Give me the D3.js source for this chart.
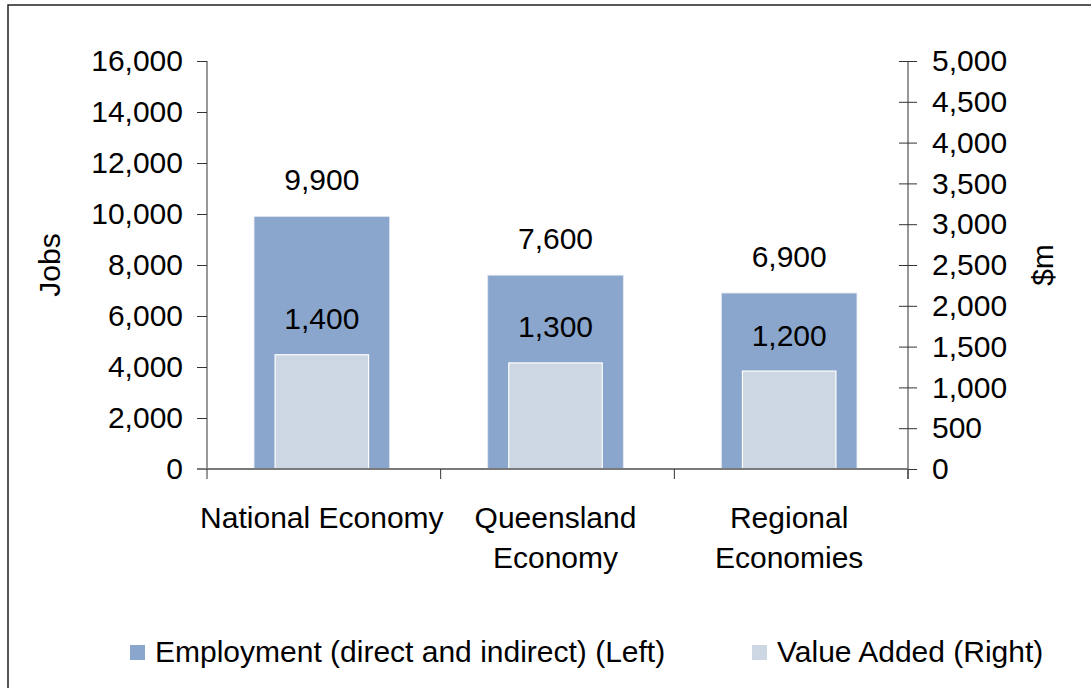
<!DOCTYPE html>
<html><head><meta charset="utf-8">
<script src="https://cdn.jsdelivr.net/npm/d3@7"></script>
<style>body{margin:0;background:#fff}svg{display:block}text{font-family:"Liberation Sans",Arial,sans-serif;fill:#000}</style>
</head><body><svg id="c" width="1091" height="688"></svg>
<script>
const categories = [["National Economy"], ["Queensland", "Economy"], ["Regional", "Economies"]];
const employment = [9900, 7600, 6900];
const valueAdded = [1400, 1300, 1200];
const leftTicks = [0, 2000, 4000, 6000, 8000, 10000, 12000, 14000, 16000];
const rightTicks = [0, 500, 1000, 1500, 2000, 2500, 3000, 3500, 4000, 4500, 5000];
const seriesNames = ["Employment (direct and indirect) (Left)", "Value Added (Right)"];
const colors = ["#8aa6cc", "#cdd7e3"];

const svg = d3.select("#c");
const fs = 30;
const L = 207, R = 908, T = 61, B = 469;
const x = d3.scaleBand().domain(d3.range(categories.length)).range([L, R]).padding(0);
const yL = d3.scaleLinear().domain([0, 16000]).range([B, T]);
const yR = d3.scaleLinear().domain([0, 5000]).range([B, T]);
const fmt = d3.format(",");

// border
svg.append("rect").attr("x", 8).attr("y", 5).attr("width", 1100).attr("height", 700)
  .attr("fill", "none").attr("stroke", "#222").attr("stroke-width", 1.5);

const bw = x.bandwidth();
const off = -2;
// employment bars
svg.selectAll(".emp").data(employment).join("rect")
  .attr("x", (d, i) => x(i) + bw / 2 + off - bw * 0.29)
  .attr("width", bw * 0.58)
  .attr("y", d => yL(d)).attr("height", d => B - yL(d))
  .attr("fill", colors[0]).attr("stroke", "#dfe6f0").attr("stroke-width", 0.8);
// value added bars
svg.selectAll(".va").data(valueAdded).join("rect")
  .attr("x", (d, i) => x(i) + bw / 2 + off - bw * 0.2)
  .attr("width", bw * 0.4)
  .attr("y", d => yR(d)).attr("height", d => B - yR(d))
  .attr("fill", colors[1]).attr("stroke", "#fff").attr("stroke-width", 1.2);

// data labels
svg.selectAll(".el").data(employment).join("text")
  .attr("x", (d, i) => x(i) + bw / 2 + off).attr("y", d => yL(d) - 37)
  .attr("text-anchor", "middle").attr("dominant-baseline", "central")
  .style("font-size", fs + "px").text(d => fmt(d));
svg.selectAll(".vl").data(valueAdded).join("text")
  .attr("x", (d, i) => x(i) + bw / 2 + off).attr("y", d => yR(d) - 36)
  .attr("text-anchor", "middle").attr("dominant-baseline", "central")
  .style("font-size", fs + "px").text(d => fmt(d));

// left axis
const gl = svg.append("g").attr("transform", `translate(${L},0)`)
  .call(d3.axisLeft(yL).tickValues(leftTicks).tickFormat(fmt).tickSize(10).tickPadding(14));
gl.select(".domain").attr("stroke", "#333").attr("d", `M0,${T}V${B}`);
gl.selectAll(".tick line").attr("stroke", "#333");
gl.selectAll("text").style("font-size", fs + "px").attr("font-family", null);

// right axis
const gr = svg.append("g").attr("transform", `translate(${R},0)`)
  .call(d3.axisRight(yR).tickValues(rightTicks).tickFormat(fmt).tickSize(9).tickPadding(15));
gr.select(".domain").attr("stroke", "#333").attr("d", `M0,${T}V${B + 10}`);
gr.selectAll(".tick line").attr("stroke", "#333").attr("x1", -9);
gr.selectAll("text").style("font-size", fs + "px").attr("font-family", null);

// x axis
const gx = svg.append("g").attr("transform", `translate(0,${B})`)
  .call(d3.axisBottom(x).tickValues([]).tickSize(0));
gx.select(".domain").attr("stroke", "#7a7a7a").attr("stroke-width", 2).attr("d", `M197,0H${R}`);
gx.selectAll(".cat").data(d3.range(categories.length + 1)).join("line")
  .attr("x1", i => L + i * bw).attr("x2", i => L + i * bw)
  .attr("y1", 0).attr("y2", 10).attr("stroke", "#333");
const cl = svg.selectAll(".cl").data(categories).join("text")
  .attr("text-anchor", "middle").style("font-size", fs + "px");
cl.each(function (d, i) {
  d3.select(this).selectAll("tspan").data(d).join("tspan")
    .attr("x", x(i) + bw / 2 + off).attr("y", (t, j) => 528 + j * 40).text(t => t);
});

// axis titles
svg.append("text").attr("transform", "translate(60,265) rotate(-90)")
  .attr("text-anchor", "middle").style("font-size", fs + "px").text("Jobs");
svg.append("text").attr("transform", "translate(1053,265) rotate(-90)")
  .attr("text-anchor", "middle").style("font-size", fs + "px").text("$m");

// legend
const lx = [130, 752];
const lg = svg.selectAll(".lg").data(seriesNames).join("g")
  .attr("transform", (d, i) => `translate(${lx[i]},645)`);
lg.append("rect").attr("width", 15).attr("height", 15).attr("fill", (d, i) => colors[i]);
lg.append("text").attr("x", 25).attr("y", 17).style("font-size", fs + "px").text(d => d);
</script></body></html>
